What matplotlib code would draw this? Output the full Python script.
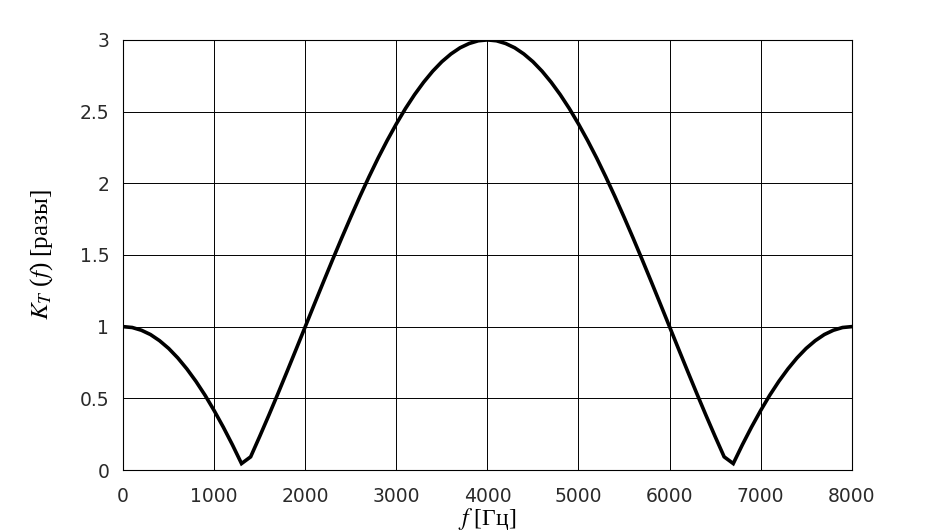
import matplotlib
matplotlib.use('Agg')
import matplotlib.pyplot as plt
import numpy as np

# частота, Гц (шаг 100)
freq = np.arange(0, 8001, 100)
# K_T(f), значения
half = [1.000, 0.994, 0.975, 0.945, 0.902, 0.848, 0.782, 0.705, 0.618, 0.521,
        0.414, 0.299, 0.176, 0.045, 0.092, 0.235, 0.382, 0.533, 0.687, 0.843,
        1.000, 1.157, 1.313, 1.467, 1.618, 1.765, 1.908, 2.045, 2.176, 2.299,
        2.414, 2.521, 2.618, 2.705, 2.782, 2.848, 2.902, 2.945, 2.975, 2.994,
        3.000]
kt = half + half[-2::-1]

xticks = [0, 1000, 2000, 3000, 4000, 5000, 6000, 7000, 8000]
yticks = [0, 0.5, 1, 1.5, 2, 2.5, 3]
ytick_labels = ['0', '0.5', '1', '1.5', '2', '2.5', '3']

plt.rcParams['mathtext.fontset'] = 'stix'
fig = plt.figure(figsize=(9.4, 5.32), dpi=100)
ax = fig.add_axes([0.131, 0.1165, 0.775, 0.8085])

ax.plot(freq, kt, color='black', lw=2.6, solid_joinstyle='miter')
ax.set_xlim(0, 8000)
ax.set_ylim(0, 3)
ax.set_xticks(xticks)
ax.set_xticklabels([str(v) for v in xticks])
ax.set_yticks(yticks)
ax.set_yticklabels(ytick_labels)
ax.grid(True, color='black', lw=0.7)
ax.tick_params(axis='x', length=0, pad=12, labelsize=13.5, labelcolor='#2a2a2a')
ax.tick_params(axis='y', length=0, pad=10, labelsize=13.5, labelcolor='#2a2a2a')
for s in ax.spines.values():
    s.set_linewidth(0.8)

ax.set_xlabel('$f$ [Гц]', family='Liberation Serif', fontsize=17, labelpad=0)
ax.set_ylabel('$K_T$ ($f$) [разы]', family='Liberation Serif', fontsize=18, labelpad=18)

fig.savefig('out.png', dpi=100)
